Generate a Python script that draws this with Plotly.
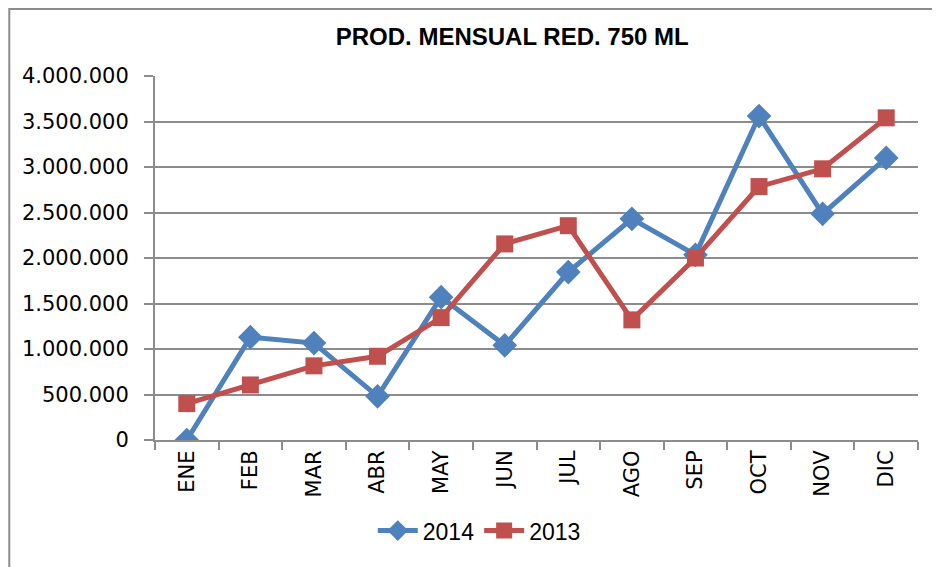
import plotly.graph_objects as go

months = ["ENE", "FEB", "MAR", "ABR", "MAY", "JUN", "JUL", "AGO", "SEP", "OCT", "NOV", "DIC"]
prod_2014 = [0, 1130000, 1065000, 480000, 1570000, 1040000, 1845000, 2430000, 2035000, 3560000, 2485000, 3100000]
prod_2013 = [400000, 605000, 815000, 920000, 1345000, 2155000, 2355000, 1320000, 2000000, 2785000, 2980000, 3540000]
title_text = "PROD. MENSUAL RED. 750 ML"

BLUE = "#4F81BD"
RED = "#C0504D"
GRID = "#8C8C8C"

fig = go.Figure()
fig.add_trace(go.Scatter(
    x=months, y=prod_2014, name="2014", mode="lines+markers",
    line=dict(color=BLUE, width=5),
    marker=dict(symbol="diamond", size=19, color=BLUE),
))
fig.add_trace(go.Scatter(
    x=months, y=prod_2013, name="2013", mode="lines+markers",
    line=dict(color=RED, width=5),
    marker=dict(symbol="square", size=17, color=RED),
))

fig.update_layout(
    width=932, height=559,
    margin=dict(l=147, r=22, t=68, b=127, autoexpand=False),
    paper_bgcolor="white", plot_bgcolor="white",
    separators=",.",
    title=dict(text="<b>" + title_text + "</b>", x=0.541, xanchor="center", y=0.948, yanchor="middle",
               font=dict(family="Liberation Sans, Arial", size=24, color="black")),
    showlegend=True,
    legend=dict(orientation="h", x=0.425, xanchor="center", y=-0.19, yanchor="top",
                font=dict(family="Liberation Sans, Arial", size=23, color="black"),
                itemwidth=40, traceorder="normal"),
    xaxis=dict(
        type="category", showgrid=False, tickson="boundaries", automargin=False,
        ticks="outside", ticklen=8, tickcolor=GRID, tickwidth=2,
        showline=True, linecolor=GRID, linewidth=2,
        tickangle=-90, tickfont=dict(family="DejaVu Sans", size=21, color="black"),
        range=[-0.5, 11.5],
    ),
    yaxis=dict(
        range=[0, 4000000], dtick=500000, tickformat=",d", automargin=False,
        showgrid=True, gridcolor=GRID, gridwidth=2,
        ticks="outside", ticklen=9, tickcolor=GRID, tickwidth=2,
        showline=True, linecolor=GRID, linewidth=2,
        zeroline=False,
        tickfont=dict(family="DejaVu Sans", size=21, color="black"),
        ticklabelstandoff=11,
    ),
)

fig.add_shape(type="rect", xref="paper", yref="paper",
              x0=-0.191, x1=1.2, y0=-0.6, y1=1.184,
              line=dict(color="#8C8C8C", width=2), fillcolor="rgba(0,0,0,0)", layer="below")

fig.write_html("out.html")
